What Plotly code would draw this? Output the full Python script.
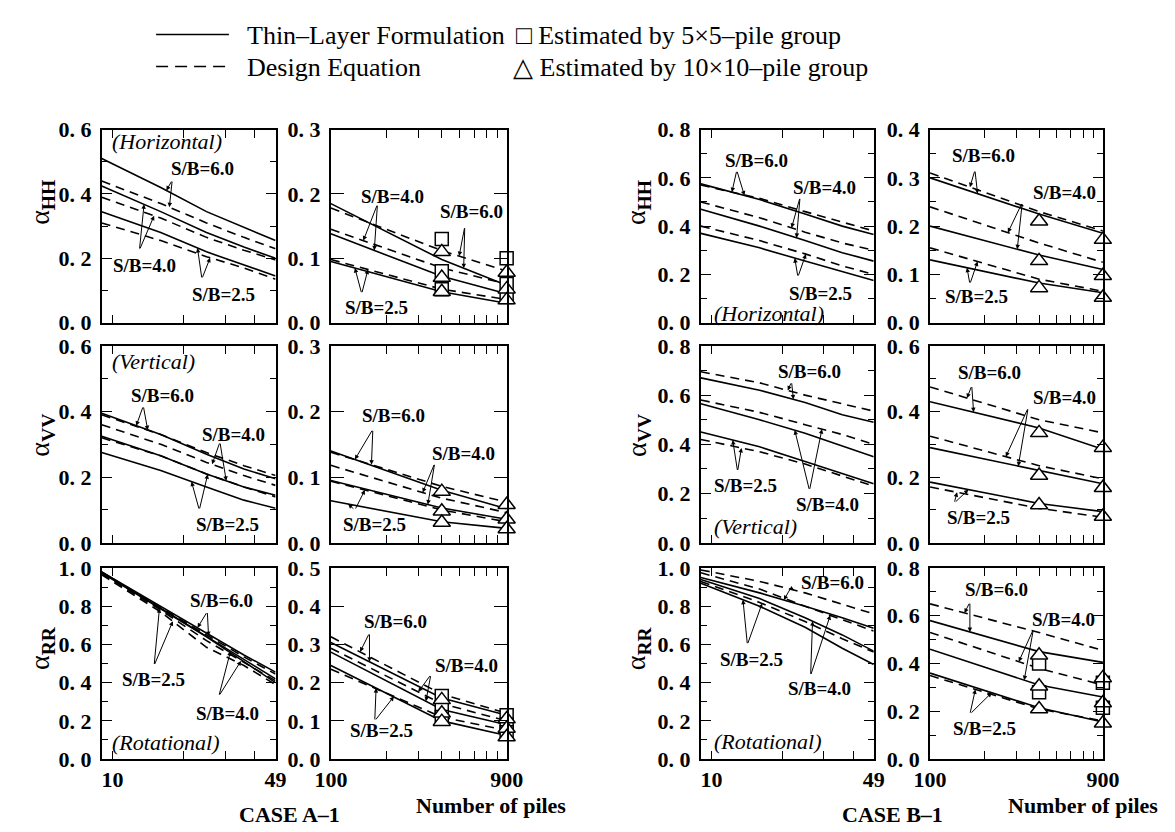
import math
import numpy as np
import plotly.graph_objects as go

W, H = 1175, 832
SERIF = "Liberation Serif"

# ---------------- data ----------------
N_SMALL = [9, 16, 25, 36, 49]
N_LARGE = [100, 400, 900]
SB = ["6.0", "4.0", "2.5"]

# CASE A-1  horizontal
A_HH_SMALL_THIN = {"6.0": [0.51, 0.42, 0.345, 0.295, 0.255], "4.0": [0.425, 0.345, 0.28, 0.235, 0.20], "2.5": [0.345, 0.28, 0.22, 0.18, 0.145]}
A_HH_SMALL_DESIGN = {"6.0": [0.44, 0.37, 0.31, 0.265, 0.23], "4.0": [0.39, 0.325, 0.265, 0.225, 0.195], "2.5": [0.31, 0.255, 0.205, 0.17, 0.135]}
A_HH_LARGE_THIN = {"6.0": [0.185, 0.098, 0.058], "4.0": [0.138, 0.072, 0.045], "2.5": [0.095, 0.048, 0.030]}
A_HH_LARGE_DESIGN = {"6.0": [0.178, 0.112, 0.080], "4.0": [0.145, 0.085, 0.060], "2.5": [0.098, 0.052, 0.036]}
A_HH_EST5 = {400: [0.130, 0.080, 0.052], 900: [0.100, 0.060, 0.040]}
A_HH_EST10 = {400: [0.110, 0.070, 0.048], 900: [0.078, 0.052, 0.035]}

# CASE A-1  vertical
A_VV_SMALL_THIN = {"6.0": [0.395, 0.33, 0.27, 0.225, 0.195], "4.0": [0.325, 0.265, 0.21, 0.17, 0.145], "2.5": [0.275, 0.22, 0.17, 0.13, 0.105]}
A_VV_SMALL_DESIGN = {"6.0": [0.39, 0.33, 0.275, 0.235, 0.205], "4.0": [0.36, 0.30, 0.245, 0.205, 0.175], "2.5": [0.32, 0.265, 0.21, 0.17, 0.14]}
A_VV_LARGE_THIN = {"6.0": [0.140, 0.080, 0.052], "4.0": [0.095, 0.053, 0.036], "2.5": [0.064, 0.032, 0.022]}
A_VV_LARGE_DESIGN = {"6.0": [0.138, 0.086, 0.062], "4.0": [0.118, 0.068, 0.046], "2.5": [0.094, 0.050, 0.032]}
A_VV_EST5 = {}
A_VV_EST10 = {400: [0.078, 0.048, 0.031], 900: [0.058, 0.036, 0.021]}

# CASE A-1  rotational
A_RR_SMALL_THIN = {"6.0": [0.98, 0.80, 0.66, 0.545, 0.455], "4.0": [0.98, 0.79, 0.645, 0.52, 0.42], "2.5": [0.975, 0.785, 0.64, 0.51, 0.40]}
A_RR_SMALL_DESIGN = {"6.0": [0.975, 0.79, 0.65, 0.535, 0.445], "4.0": [0.97, 0.78, 0.62, 0.505, 0.41], "2.5": [0.965, 0.77, 0.585, 0.49, 0.39]}
A_RR_LARGE_THIN = {"6.0": [0.305, 0.16, 0.115], "4.0": [0.28, 0.13, 0.09], "2.5": [0.245, 0.10, 0.062]}
A_RR_LARGE_DESIGN = {"6.0": [0.32, 0.17, 0.12], "4.0": [0.29, 0.145, 0.10], "2.5": [0.235, 0.11, 0.075]}
A_RR_EST5 = {400: [0.165, 0.135, 0.11], 900: [0.115, 0.09, 0.07]}
A_RR_EST10 = {400: [0.155, 0.12, 0.098], 900: [0.105, 0.08, 0.058]}

# CASE B-1  horizontal
B_HH_SMALL_THIN = {"6.0": [0.575, 0.51, 0.45, 0.40, 0.365], "4.0": [0.47, 0.40, 0.34, 0.29, 0.255], "2.5": [0.37, 0.31, 0.255, 0.21, 0.175]}
B_HH_SMALL_DESIGN = {"6.0": [0.57, 0.515, 0.46, 0.415, 0.38], "4.0": [0.50, 0.435, 0.375, 0.33, 0.30], "2.5": [0.40, 0.34, 0.285, 0.235, 0.20]}
B_HH_LARGE_THIN = {"6.0": [0.30, 0.225, 0.185], "4.0": [0.20, 0.14, 0.11], "2.5": [0.13, 0.082, 0.062]}
B_HH_LARGE_DESIGN = {"6.0": [0.31, 0.23, 0.19], "4.0": [0.24, 0.165, 0.125], "2.5": [0.155, 0.09, 0.065]}
B_HH_EST5 = {}
B_HH_EST10 = {400: [0.21, 0.128, 0.072], 900: [0.172, 0.097, 0.052]}

# CASE B-1  vertical
B_VV_SMALL_THIN = {"6.0": [0.67, 0.62, 0.57, 0.52, 0.49], "4.0": [0.565, 0.50, 0.445, 0.395, 0.35], "2.5": [0.45, 0.39, 0.33, 0.28, 0.24]}
B_VV_SMALL_DESIGN = {"6.0": [0.695, 0.65, 0.60, 0.565, 0.535], "4.0": [0.58, 0.53, 0.48, 0.44, 0.40], "2.5": [0.42, 0.37, 0.32, 0.27, 0.23]}
B_VV_LARGE_THIN = {"6.0": [0.43, 0.35, 0.285], "4.0": [0.29, 0.22, 0.18], "2.5": [0.185, 0.12, 0.095]}
B_VV_LARGE_DESIGN = {"6.0": [0.475, 0.375, 0.335], "4.0": [0.325, 0.235, 0.195], "2.5": [0.17, 0.105, 0.078]}
B_VV_EST5 = {}
B_VV_EST10 = {400: [0.335, 0.205, 0.115], 900: [0.29, 0.168, 0.08]}

# CASE B-1  rotational
B_RR_SMALL_THIN = {"6.0": [0.95, 0.87, 0.80, 0.74, 0.685], "4.0": [0.94, 0.84, 0.74, 0.65, 0.565], "2.5": [0.92, 0.80, 0.69, 0.58, 0.495]}
B_RR_SMALL_DESIGN = {"6.0": [0.99, 0.93, 0.87, 0.81, 0.76], "4.0": [0.975, 0.89, 0.80, 0.73, 0.67], "2.5": [0.93, 0.82, 0.72, 0.63, 0.56]}
B_RR_LARGE_THIN = {"6.0": [0.58, 0.45, 0.405], "4.0": [0.46, 0.31, 0.26], "2.5": [0.36, 0.215, 0.155]}
B_RR_LARGE_DESIGN = {"6.0": [0.65, 0.53, 0.455], "4.0": [0.53, 0.38, 0.31], "2.5": [0.35, 0.21, 0.16]}
B_RR_EST5 = {400: [0.40, 0.28], 900: [0.32, 0.215]}
B_RR_EST10 = {400: [0.435, 0.305, 0.21], 900: [0.34, 0.235, 0.15]}

# ---------------- layout geometry (pixels) ----------------
COL_PX = [(79, 258), (315, 496), (696, 874), (932, 1110)]
ROW_PX = [(113, 312), (336, 539), (565, 762)]

# (row, col, small?, thin, design, est5, est10, ymax, label step, minor step)
PANELS = [
    (0, 0, True, A_HH_SMALL_THIN, A_HH_SMALL_DESIGN, {}, {}, 0.6, 0.2, 0.1),
    (0, 1, False, A_HH_LARGE_THIN, A_HH_LARGE_DESIGN, A_HH_EST5, A_HH_EST10, 0.3, 0.1, None),
    (0, 2, True, B_HH_SMALL_THIN, B_HH_SMALL_DESIGN, {}, {}, 0.8, 0.2, 0.1),
    (0, 3, False, B_HH_LARGE_THIN, B_HH_LARGE_DESIGN, B_HH_EST5, B_HH_EST10, 0.4, 0.1, 0.05),
    (1, 0, True, A_VV_SMALL_THIN, A_VV_SMALL_DESIGN, {}, {}, 0.6, 0.2, 0.1),
    (1, 1, False, A_VV_LARGE_THIN, A_VV_LARGE_DESIGN, A_VV_EST5, A_VV_EST10, 0.3, 0.1, None),
    (1, 2, True, B_VV_SMALL_THIN, B_VV_SMALL_DESIGN, {}, {}, 0.8, 0.2, 0.1),
    (1, 3, False, B_VV_LARGE_THIN, B_VV_LARGE_DESIGN, B_VV_EST5, B_VV_EST10, 0.6, 0.2, 0.1),
    (2, 0, True, A_RR_SMALL_THIN, A_RR_SMALL_DESIGN, {}, {}, 1.0, 0.2, 0.1),
    (2, 1, False, A_RR_LARGE_THIN, A_RR_LARGE_DESIGN, A_RR_EST5, A_RR_EST10, 0.5, 0.1, None),
    (2, 2, True, B_RR_SMALL_THIN, B_RR_SMALL_DESIGN, {}, {}, 1.0, 0.2, 0.1),
    (2, 3, False, B_RR_LARGE_THIN, B_RR_LARGE_DESIGN, B_RR_EST5, B_RR_EST10, 0.8, 0.2, 0.1),
]

# S/B labels: panel -> (text, text N, text v, tail N, tail v, [(kind, sb, target N)])
LABELS = {
    0: [("S/B=6.0", 24.1, 0.479, 17.9, 0.443, [("t", "6.0", 16.9), ("d", "6.0", 17.4)]),
        ("S/B=4.0", 13.6, 0.178, 13.0, 0.226, [("t", "4.0", 13.6), ("d", "4.0", 15.0)]),
        ("S/B=2.5", 29.6, 0.087, 23.9, 0.136, [("t", "2.5", 22.9), ("d", "2.5", 25.9)])],
    1: [("S/B=4.0", 215, 0.196, 179, 0.184, [("d", "4.0", 150), ("t", "4.0", 172)]),
        ("S/B=6.0", 581, 0.172, 533, 0.149, [("d", "6.0", 497), ("t", "6.0", 526)]),
        ("S/B=2.5", 177, 0.023, 147, 0.045, [("t", "2.5", 135), ("d", "2.5", 159)])],
    2: [("S/B=6.0", 15.5, 0.671, 12.8, 0.631, [("d", "6.0", 12.2), ("t", "6.0", 13.8)]),
        ("S/B=4.0", 30.1, 0.559, 23.8, 0.519, [("d", "4.0", 21.9), ("t", "4.0", 23.0)]),
        ("S/B=2.5", 29.0, 0.121, 23.3, 0.189, [("t", "2.5", 22.6), ("d", "2.5", 25.2)])],
    3: [("S/B=6.0", 197, 0.346, 177, 0.316, [("d", "6.0", 166), ("t", "6.0", 183)]),
        ("S/B=4.0", 550, 0.269, 323, 0.249, [("d", "4.0", 269), ("t", "4.0", 303)]),
        ("S/B=2.5", 181, 0.054, 166, 0.080, [("t", "2.5", 160), ("d", "2.5", 183)])],
    4: [("S/B=6.0", 16.3, 0.449, 13.5, 0.417, [("t", "6.0", 12.6), ("d", "6.0", 14.1)]),
        ("S/B=4.0", 32.6, 0.331, 28.5, 0.307, [("d", "4.0", 26.4), ("t", "4.0", 30.3)]),
        ("S/B=2.5", 30.8, 0.056, 23.3, 0.100, [("t", "2.5", 21.6), ("d", "2.5", 25.3)])],
    5: [("S/B=6.0", 220, 0.194, 169, 0.173, [("t", "6.0", 135), ("d", "6.0", 166)]),
        ("S/B=4.0", 527, 0.136, 366, 0.121, [("d", "4.0", 315), ("t", "4.0", 336)]),
        ("S/B=2.5", 173, 0.028, 135, 0.050, [("t", "2.5", 124), ("d", "2.5", 153)])],
    6: [("S/B=6.0", 26.1, 0.694, 21.9, 0.654, [("d", "6.0", 21.1), ("t", "6.0", 22.3)]),
        ("S/B=4.0", 31.3, 0.154, 26.1, 0.213, [("t", "4.0", 22.6), ("d", "4.0", 29.5)]),
        ("S/B=2.5", 13.9, 0.232, 12.9, 0.290, [("t", "2.5", 12.3), ("d", "2.5", 13.4)])],
    7: [("S/B=6.0", 212, 0.52, 170, 0.479, [("d", "6.0", 160), ("t", "6.0", 174)]),
        ("S/B=4.0", 550, 0.443, 348, 0.411, [("d", "4.0", 262), ("t", "4.0", 307)]),
        ("S/B=2.5", 185, 0.077, 136, 0.121, [("d", "2.5", 141), ("t", "2.5", 163)])],
    8: [("S/B=6.0", 28.8, 0.832, 25.2, 0.772, [("t", "6.0", 22.9), ("d", "6.0", 25.5)]),
        ("S/B=2.5", 14.9, 0.416, 15.0, 0.49, [("t", "2.5", 15.8), ("d", "2.5", 18.0)]),
        ("S/B=4.0", 30.8, 0.239, 28.2, 0.33, [("t", "4.0", 31.6), ("d", "4.0", 35.0)])],
    9: [("S/B=6.0", 225, 0.36, 162, 0.33, [("d", "6.0", 144), ("t", "6.0", 162)]),
        ("S/B=4.0", 547, 0.246, 349, 0.221, [("d", "4.0", 298), ("t", "4.0", 328)]),
        ("S/B=2.5", 188, 0.076, 173, 0.10, [("t", "2.5", 176), ("d", "2.5", 220)])],
    10: [("S/B=6.0", 32.6, 0.922, 21.7, 0.894, [("t", "6.0", 20.3), ("d", "6.0", 22.5)]),
         ("S/B=2.5", 14.8, 0.523, 14.2, 0.599, [("t", "2.5", 13.6), ("d", "2.5", 16.4)]),
         ("S/B=4.0", 28.8, 0.371, 26.4, 0.438, [("t", "4.0", 26.9), ("d", "4.0", 32.0)])],
    11: [("S/B=6.0", 234, 0.71, 166, 0.657, [("d", "6.0", 155), ("t", "6.0", 166)]),
         ("S/B=4.0", 549, 0.583, 372, 0.543, [("d", "4.0", 309), ("t", "4.0", 331)]),
         ("S/B=2.5", 199, 0.127, 166, 0.188, [("d", "2.5", 178), ("t", "2.5", 219)])],
}


def px(x):
    return x / W


def py(y):
    return 1 - y / H


def fmt(v):
    return f"{v:.1f}".replace(".", ".\u00a0")


fig = go.Figure()
layout = dict(width=W, height=H, margin=dict(l=0, r=0, t=0, b=0),
              paper_bgcolor="white", plot_bgcolor="white", showlegend=False)
annotations = []
shapes = []

TICKFONT = dict(family=SERIF, size=22, color="black", weight="bold")

for i, (r, c, small, thin, design, est5, est10, ymax, ystep, yminor) in enumerate(PANELS):
    xs = "x" if i == 0 else f"x{i+1}"
    ys = "y" if i == 0 else f"y{i+1}"
    xkey = "xaxis" if i == 0 else f"xaxis{i+1}"
    ykey = "yaxis" if i == 0 else f"yaxis{i+1}"
    x0, x1 = COL_PX[c]
    y0, y1 = ROW_PX[r]
    nvals = N_SMALL if small else N_LARGE

    if small:
        tv = [10, 20, 30, 40, 49]
        tt = ["10", "", "", "", "49"]
        xr = [math.log10(9), math.log10(49)]
    else:
        tv = [100, 200, 300, 400, 500, 600, 700, 800, 900]
        tt = ["100"] + [""] * 7 + ["900"]
        xr = [2, math.log10(900)]
    layout[xkey] = dict(domain=[px(x0), px(x1)], anchor=ys, type="log", range=xr,
                        tickmode="array", tickvals=tv, ticktext=tt,
                        ticks="inside", ticklen=8, tickwidth=1.3, tickcolor="black",
                        showline=True, linecolor="black", linewidth=1.8, mirror="allticks",
                        showgrid=False, zeroline=False, showticklabels=(r == 2),
                        tickfont=TICKFONT, fixedrange=True)
    nlab = int(round(ymax / ystep))
    yv = [round(k * ystep, 3) for k in range(nlab + 1)]
    yaxis = dict(domain=[py(y1), py(y0)], anchor=xs, range=[0, ymax],
                 tickmode="array", tickvals=yv, ticktext=[fmt(v) for v in yv],
                 ticks="inside", ticklen=(13 if yminor is None else 10), tickwidth=1.3, tickcolor="black",
                 showline=True, linecolor="black", linewidth=1.8, mirror="allticks",
                 showgrid=False, zeroline=False, tickfont=TICKFONT, fixedrange=True,
                 ticklabelstandoff=4)
    if yminor:
        yaxis["minor"] = dict(tickmode="linear", tick0=0, dtick=yminor, ticks="inside",
                              ticklen=6, tickwidth=1.2, tickcolor="black", showgrid=False)
    layout[ykey] = yaxis

    for sb in SB:
        fig.add_trace(go.Scatter(x=nvals, y=design[sb], mode="lines", xaxis=xs, yaxis=ys,
                                 line=dict(color="black", width=1.6, dash="9px,6px"),
                                 hoverinfo="skip"))
        fig.add_trace(go.Scatter(x=nvals, y=thin[sb], mode="lines", xaxis=xs, yaxis=ys,
                                 line=dict(color="black", width=1.6), hoverinfo="skip"))
    if est5:
        ex = [n for n, vals in est5.items() for _ in vals]
        ey = [v for vals in est5.values() for v in vals]
        fig.add_trace(go.Scatter(x=ex, y=ey, mode="markers", xaxis=xs, yaxis=ys, cliponaxis=False,
                                 marker=dict(symbol="square", size=13, color="white",
                                             line=dict(color="black", width=1.5)), hoverinfo="skip"))
    if est10:
        ex = [n for n, vals in est10.items() for _ in vals]
        ey = [v for vals in est10.values() for v in vals]
        fig.add_trace(go.Scatter(x=ex, y=ey, mode="markers", xaxis=xs, yaxis=ys, cliponaxis=False,
                                 marker=dict(symbol="triangle-up", size=15, color="white",
                                             line=dict(color="black", width=1.5)), hoverinfo="skip"))

    # S/B labels with pointer lines
    for text, tn, tvv, an, av, targets in LABELS[i]:
        annotations.append(dict(x=math.log10(tn), y=tvv, xref=xs, yref=ys, text=f"<b>{text}</b>",
                                showarrow=False, font=dict(family=SERIF, size=19, color="black")))
        for kind, sb, n in targets:
            series = thin if kind == "t" else design
            yv_t = float(np.interp(math.log10(n), np.log10(nvals), series[sb]))
            annotations.append(dict(x=math.log10(n), y=yv_t, xref=xs, yref=ys,
                                    ax=math.log10(an), ay=av, axref=xs, ayref=ys,
                                    text="", showarrow=True, arrowhead=2, arrowsize=0.9,
                                    arrowwidth=1.0, arrowcolor="black", standoff=0))

# panel titles
for txt, x, y in [("(Horizontal)", 88, 125), ("(Vertical)", 88, 352), ("(Rotational)", 88, 745),
                  ("(Horizontal)", 707, 303), ("(Vertical)", 707, 522), ("(Rotational)", 707, 744)]:
    annotations.append(dict(x=px(x), y=py(y), xref="paper", yref="paper", text=f"<i>{txt}</i>",
                            showarrow=False, xanchor="left", yanchor="middle",
                            font=dict(family=SERIF, size=22, color="black")))

# y-axis titles
for sub, x, y in [("HH", 17, 188), ("VV", 17, 428), ("RR", 17, 648),
                  ("HH", 631, 188), ("VV", 631, 428), ("RR", 631, 648)]:
    annotations.append(dict(x=px(x), y=py(y), xref="paper", yref="paper",
                            text=f"α<sub><b>{sub}</b></sub>", textangle=-90, showarrow=False,
                            xanchor="center", yanchor="middle",
                            font=dict(family=SERIF, size=28, color="black")))

# bottom texts
for txt, x, y in [("Number of piles", 480, 810), ("Number of piles", 1090, 810),
                  ("CASE A–1", 272, 819), ("CASE B–1", 893, 819)]:
    annotations.append(dict(x=px(x), y=py(y), xref="paper", yref="paper", text=f"<b>{txt}</b>",
                            showarrow=False, xanchor="center", yanchor="middle",
                            font=dict(family=SERIF, size=22, color="black")))

# legend
for txt, x, y in [("Thin–Layer Formulation", 227, 16), ("Design Equation", 227, 49),
                  ("□ Estimated by 5×5–pile group", 504, 16),
                  ("△ Estimated by 10×10–pile group", 500, 49)]:
    annotations.append(dict(x=px(x), y=py(y), xref="paper", yref="paper", text=txt,
                            showarrow=False, xanchor="left", yanchor="middle",
                            font=dict(family=SERIF, size=26, color="black")))
shapes.append(dict(type="line", xref="paper", yref="paper", x0=px(135), x1=px(210),
                   y0=py(15), y1=py(15), line=dict(color="black", width=1.6)))
shapes.append(dict(type="line", xref="paper", yref="paper", x0=px(135), x1=px(210),
                   y0=py(48), y1=py(48), line=dict(color="black", width=1.6, dash="12px,7px")))

layout["annotations"] = annotations
layout["shapes"] = shapes
fig.update_layout(**layout)
fig.write_html("out.html")
